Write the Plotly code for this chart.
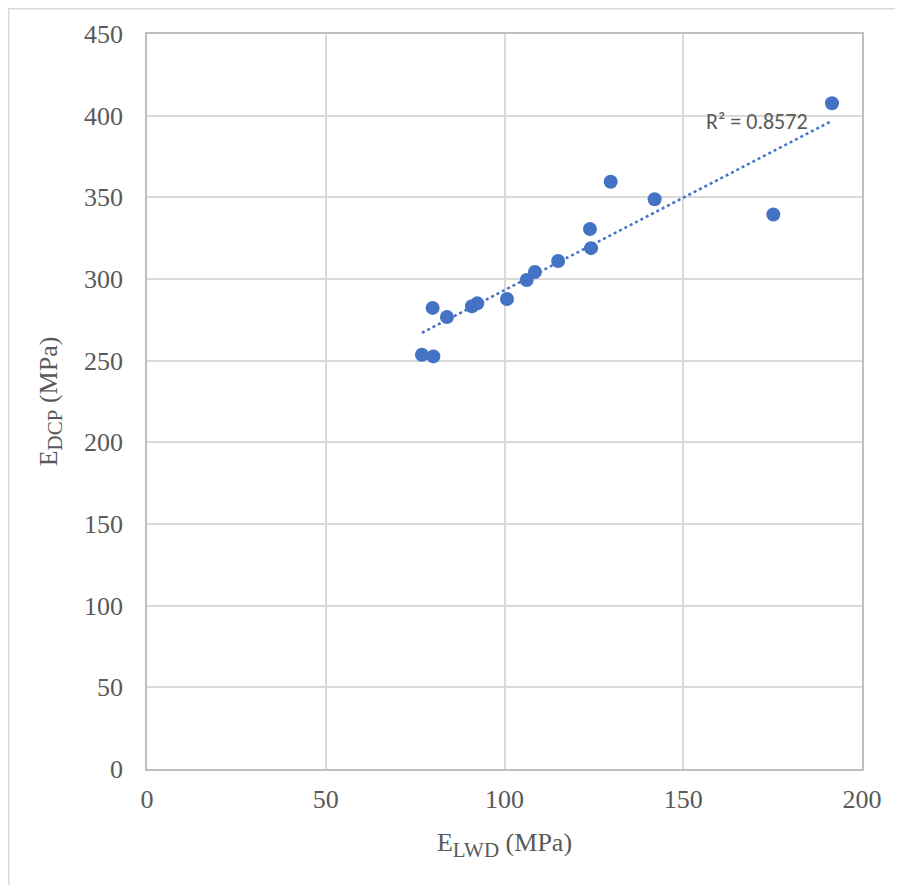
import numpy as np
import plotly.graph_objects as go

# Data
e_lwd = [76.9, 80.1, 79.9, 83.9, 90.9, 92.4, 100.7, 106.2, 108.5, 115.0, 123.9, 124.2, 129.7, 142.0, 175.2, 191.6]
e_dcp = [253.6, 252.6, 282.3, 276.7, 283.3, 285.1, 287.8, 299.4, 304.3, 311.0, 330.6, 318.9, 359.5, 348.8, 339.5, 407.6]
r2_label = "R² = 0.8572"
x_ticks = [0, 50, 100, 150, 200]
y_ticks = [0, 50, 100, 150, 200, 250, 300, 350, 400, 450]

OFF = 8  # page body margin
W, H = 895, 877
L, R, T, B = 139, 41, 26, 116
pw, ph = W - L - R, H - T - B

def px(xp):
    return (xp - OFF - L) / pw

def py(yp):
    return (H - B - (yp - OFF)) / ph

slope, intercept = np.polyfit(e_lwd, e_dcp, 1)
xfit = [min(e_lwd), max(e_lwd)]
yfit = [slope * v + intercept for v in xfit]

blue = "#4472C4"
grid = "#D9D9D9"
serif = "Liberation Serif, Times New Roman, serif"

fig = go.Figure()
fig.add_trace(go.Scatter(x=xfit, y=yfit, mode="lines",
                         line=dict(color=blue, width=2.5, dash="dot"),
                         hoverinfo="skip", showlegend=False))
fig.add_trace(go.Scatter(x=e_lwd, y=e_dcp, mode="markers",
                         marker=dict(color=blue, size=14),
                         showlegend=False))

fig.add_annotation(x=px(757), y=py(122), xref="paper", yref="paper",
                   xanchor="center", yanchor="middle",
                   text=r2_label, showarrow=False,
                   font=dict(family="Carlito, Liberation Sans, Calibri, sans-serif", size=22, color="#595959"))

# outer chart border (top/left visible)
fig.add_shape(type="rect", xref="paper", yref="paper",
              x0=px(8.8), x1=px(930), y0=py(8.8), y1=py(900),
              line=dict(color="#D9D9D9", width=1.5), layer="below")

sub_style = '<sub><span style="font-size:21px">%s</span></sub>'

fig.update_layout(
    width=W, height=H,
    margin=dict(l=L, r=R, t=T, b=B),
    paper_bgcolor="white", plot_bgcolor="white",
    font=dict(family=serif, size=26, color="#595959"),
    xaxis=dict(range=[0, 200], tickvals=x_ticks, showgrid=True, gridcolor=grid, gridwidth=1.5,
               zeroline=False, showline=True, linecolor="#BFBFBF", linewidth=1.5, mirror=True,
               ticks="", ticklabelstandoff=6, tickfont=dict(family=serif, size=26, color="#595959"),
               title=dict(text="E" + sub_style % "LWD" + " (MPa)",
                          font=dict(family=serif, size=26, color="#595959"),
                          standoff=20)),
    yaxis=dict(range=[0, 450], tickvals=y_ticks, showgrid=True, gridcolor=grid, gridwidth=1.5,
               zeroline=False, showline=True, linecolor="#BFBFBF", linewidth=1.5, mirror=True,
               ticks="", ticklabelstandoff=17, tickfont=dict(family=serif, size=26, color="#595959"),
               title=dict(text="E" + sub_style % "DCP" + " (MPa)",
                          font=dict(family=serif, size=26, color="#595959"),
                          standoff=19)),
)

fig.write_html("out.html")
